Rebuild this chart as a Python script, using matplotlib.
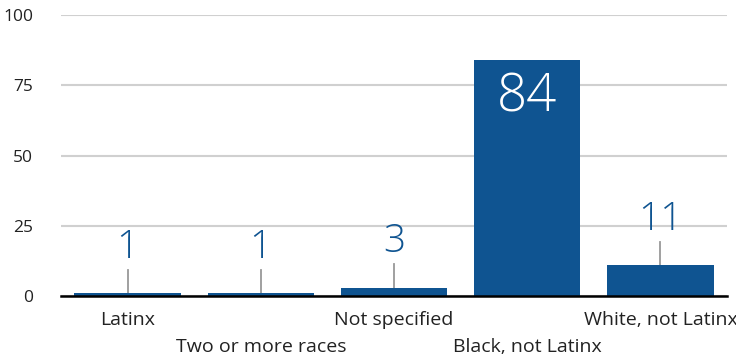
import matplotlib
matplotlib.use("Agg")
import matplotlib.pyplot as plt

# data
categories = ["Latinx", "Two or more races", "Not specified", "Black, not Latinx", "White, not Latinx"]
values = [1, 1, 3, 84, 11]
yticks = [0, 25, 50, 75, 100]

bar_color = "#0f5491"
plt.rcParams["font.family"] = ["Open Sans", "DejaVu Sans"]

fig = plt.figure(figsize=(7.36, 3.58), dpi=100)
ax = fig.add_axes([61 / 736, 62 / 358, 666 / 736, 281 / 358])

x = list(range(len(categories)))
ax.bar(x, values, width=0.8, color=bar_color, zorder=3)

for i, v in enumerate(values):
    if v > 50:
        ax.text(i, v - 4, str(v), ha="center", va="top", color="white",
                fontsize=38, fontweight="light", zorder=4)
    else:
        ax.plot([i, i], [v, v + 8.3], color="#999999", lw=1.3, zorder=2)
        ax.text(i, v + 9.3, str(v), ha="center", va="bottom", color=bar_color,
                fontsize=28, fontweight="light", zorder=4)

ax.set_xlim(-0.5, 4.5)
ax.set_ylim(0, 100)
ax.set_yticks(yticks)
ax.set_yticklabels([str(t) for t in yticks], fontsize=12.5, color="#222222")
ax.yaxis.grid(True, color="#d0d0d0", lw=1.5, zorder=0)
ax.tick_params(axis="y", length=0, pad=20)
ax.set_xticks(x)
ax.set_xticklabels([])
ax.tick_params(axis="x", length=0)
for s in ["top", "right", "left"]:
    ax.spines[s].set_visible(False)
ax.spines["bottom"].set_color("black")
ax.spines["bottom"].set_linewidth(1.8)
ax.spines["bottom"].set_zorder(5)

for i, c in enumerate(categories):
    y = -8.5 if i % 2 == 0 else -18
    ax.text(i, y, c, ha="center", va="center", fontsize=14, color="#222222")

fig.savefig("out.png", dpi=100)
